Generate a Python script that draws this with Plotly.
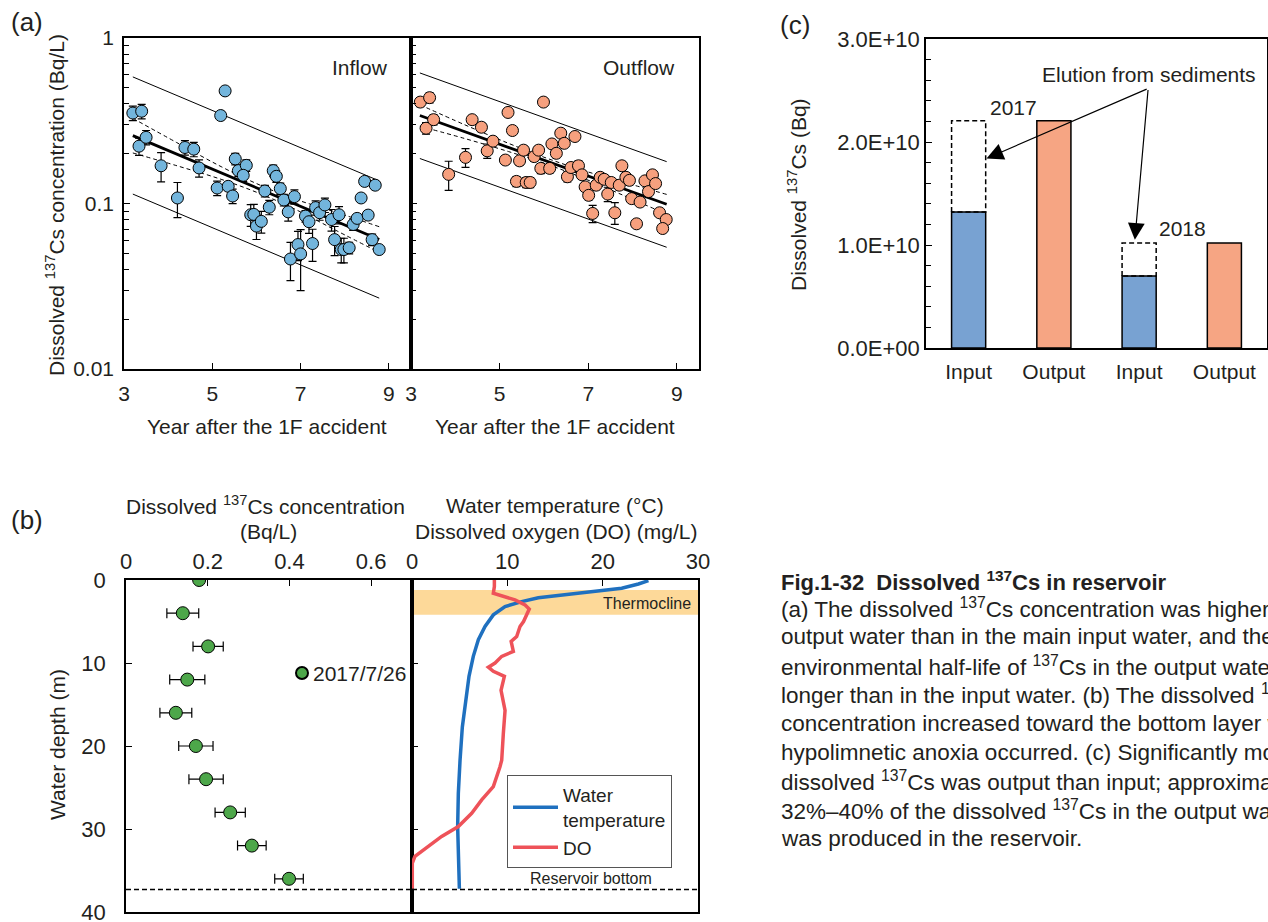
import plotly.graph_objects as go

W, H = 1268, 922
FONT = "Liberation Sans, Arial, sans-serif"
TXT = "#231F20"

# ---------------- (a) Inflow ----------------
in_year = [3.20, 3.40, 3.34, 3.50, 3.84, 4.21, 4.38, 4.58, 4.70, 5.29, 5.19, 5.11, 5.36, 5.46,
           5.52, 5.59, 5.77, 5.70, 5.87, 5.94, 6.00, 6.11, 6.19, 6.29, 6.38, 6.45, 6.54, 6.62,
           6.72, 6.86, 6.77, 6.94, 7.00, 7.11, 7.19, 7.27, 7.34, 7.43, 7.55, 7.70, 7.77, 7.87,
           7.92, 7.98, 8.10, 8.19, 8.28, 8.37, 8.45, 8.53, 8.69, 8.62, 8.78]
in_conc = [0.352, 0.361, 0.222, 0.251, 0.169, 0.108, 0.218, 0.213, 0.164, 0.479, 0.340, 0.124,
           0.127, 0.111, 0.186, 0.158, 0.170, 0.148, 0.0855, 0.0859, 0.073, 0.078, 0.119, 0.095,
           0.158, 0.146, 0.123, 0.105, 0.089, 0.110, 0.0462, 0.0565, 0.0496, 0.0839, 0.0776,
           0.0573, 0.0944, 0.088, 0.098, 0.080, 0.0605, 0.0855, 0.0527, 0.0527, 0.054, 0.0747,
           0.0813, 0.108, 0.136, 0.0851, 0.129, 0.0605, 0.0527]
in_err_rel = [0.10, 0.10, 0.12, 0.10, 0.20, 0.24, 0.10, 0.10, 0.12, 0.0, 0.0, 0.10, 0.05, 0.10,
              0.08, 0.08, 0.08, 0.08, 0.15, 0.15, 0.17, 0.15, 0.08, 0.10, 0.08, 0.08, 0.08, 0.08,
              0.12, 0.10, 0.26, 0.20, 0.40, 0.08, 0.15, 0.22, 0.10, 0.10, 0.10, 0.15, 0.20, 0.12,
              0.17, 0.17, 0.08, 0.08, 0.05, 0.05, 0.0, 0.05, 0.0, 0.08, 0.0]
in_fit_x = [3.20, 8.78]
in_fit_y = [0.257, 0.0606]
in_pred_hi = [0.582, 0.137]
in_pred_lo = [0.114, 0.0268]
in_band_x = [3.20, 4.20, 5.20, 6.00, 6.80, 7.80, 8.78]
in_band_hi = [0.327, 0.233, 0.167, 0.132, 0.108, 0.0886, 0.0724]
in_band_lo = [0.202, 0.169, 0.140, 0.117, 0.0944, 0.0688, 0.0506]

# ---------------- (a) Outflow ----------------
out_year = [3.21, 3.42, 3.34, 3.51, 3.85, 4.23, 4.38, 4.59, 4.72, 4.85, 5.13, 5.19, 5.29, 5.38,
            5.45, 5.54, 5.60, 5.69, 5.78, 5.88, 5.93, 5.99, 6.13, 6.18, 6.28, 6.38, 6.46, 6.53,
            6.61, 6.70, 6.78, 6.86, 6.93, 7.01, 7.10, 7.18, 7.27, 7.36, 7.44, 7.52, 7.60, 7.70,
            7.76, 7.85, 7.93, 7.98, 8.09, 8.17, 8.28, 8.36, 8.45, 8.52, 8.61, 8.76, 8.68]
out_conc = [0.410, 0.436, 0.285, 0.321, 0.150, 0.190, 0.321, 0.289, 0.208, 0.238, 0.183, 0.355,
            0.276, 0.136, 0.181, 0.210, 0.134, 0.134, 0.192, 0.210, 0.163, 0.410, 0.163, 0.229,
            0.201, 0.266, 0.231, 0.145, 0.165, 0.254, 0.169, 0.149, 0.126, 0.112, 0.0871, 0.129,
            0.144, 0.140, 0.114, 0.134, 0.0879, 0.129, 0.169, 0.144, 0.138, 0.107, 0.0754, 0.102,
            0.137, 0.118, 0.149, 0.132, 0.0879, 0.080, 0.0706]
out_err_rel = [0.06, 0.07, 0.08, 0.07, 0.20, 0.13, 0.06, 0.06, 0.10, 0.06, 0.06, 0.0, 0.0, 0.07,
               0.06, 0.06, 0.07, 0.07, 0.06, 0.06, 0.07, 0.0, 0.06, 0.0, 0.06, 0.0, 0.0, 0.07,
               0.06, 0.0, 0.07, 0.06, 0.06, 0.06, 0.12, 0.06, 0.06, 0.06, 0.10, 0.06, 0.15, 0.06,
               0.06, 0.06, 0.06, 0.0, 0.0, 0.0, 0.0, 0.0, 0.0, 0.0, 0.0, 0.0, 0.0]
out_fit_x = [3.20, 8.77]
out_fit_y = [0.340, 0.0989]
out_pred_hi = [0.615, 0.179]
out_pred_lo = [0.187, 0.0544]
out_band_x = [3.20, 4.20, 5.20, 6.00, 6.80, 7.80, 8.77]
out_band_hi = [0.395, 0.300, 0.231, 0.1905, 0.161, 0.1344, 0.1135]
out_band_lo = [0.293, 0.2475, 0.206, 0.1754, 0.1455, 0.1118, 0.0861]

# ---------------- (b) depth profile ----------------
b_depth = [0, 4, 8, 12, 16, 20, 24, 28, 32, 36]
b_conc = [0.179, 0.139, 0.201, 0.150, 0.122, 0.171, 0.196, 0.255, 0.308, 0.399]
b_err = [0.0, 0.039, 0.037, 0.043, 0.039, 0.042, 0.042, 0.037, 0.035, 0.035]
b_date = "2017/7/26"

temp_val = [24.8, 23.75, 22.0, 18.85, 15.7, 13.25, 11.5, 9.76, 8.53, 7.66, 6.96, 6.43, 5.98,
            5.63, 5.28, 5.04, 4.86, 4.79, 4.86, 4.97]
temp_depth = [0.08, 0.48, 1.0, 1.4, 1.8, 2.13, 2.6, 3.2, 4.2, 5.6, 7.2, 9.2, 11.6, 14.5, 17.7,
              21.7, 25.7, 29.7, 33.7, 37.2]
do_val = [8.64, 8.64, 8.53, 9.41, 10.8, 11.86, 12.3, 11.7, 11.33, 10.98, 10.4, 10.63, 9.41,
          8.71, 8.01, 8.53, 9.69, 9.34, 9.48, 9.76, 9.58, 9.41, 9.23, 8.53, 7.31, 6.26, 4.86,
          3.11, 1.71, 0.31, 0.03, 0.03]
do_depth = [0.0, 0.8, 1.6, 1.93, 2.4, 3.0, 3.5, 5.0, 5.6, 6.8, 7.4, 8.6, 9.2, 10.0, 10.5, 11.0,
            11.6, 13.3, 14.1, 15.7, 18.5, 21.7, 22.5, 24.9, 26.5, 28.1, 29.7, 30.9, 32.1, 33.3,
            34.1, 37.2]
thermo_top, thermo_bot = 1.2, 4.2
bottom_depth = 37.3

# ---------------- (c) budget ----------------
c_pos = [0, 1, 2, 3]
c_labels = ["Input", "Output", "Input", "Output"]
c_years = ["2017", "2018"]
c_input = [1.32e10, 0.70e10]
c_output = [2.207e10, 1.02e10]
c_ticks = [0, 1e10, 2e10, 3e10]
c_ticktext = ["0.0E+00", "1.0E+10", "2.0E+10", "3.0E+10"]
elution_tail = (2.106, 2.52e10)
elution_heads = [(0.21, 1.84e10), (1.95, 1.05e10)]

caption_title = "<b>Fig.1-32  Dissolved <sup>137</sup>Cs in reservoir</b>"
caption_lines = [
    "(a) The dissolved <sup>137</sup>Cs concentration was higher in the",
    "output water than in the main input water, and the effective",
    "environmental half-life of <sup>137</sup>Cs in the output water was",
    "longer than in the input water. (b) The dissolved <sup>137</sup>Cs",
    "concentration increased toward the bottom layer when",
    "hypolimnetic anoxia occurred. (c) Significantly more",
    "dissolved <sup>137</sup>Cs was output than input; approximately",
    "32%–40% of the dissolved <sup>137</sup>Cs in the output water",
    "was produced in the reservoir.",
]


def px(x):
    return x / W


def py(y):
    return 1 - y / H


fig = go.Figure()


def add_a(xa, ya, yr, conc, err, fx, fy, phi, plo, bx, bhi, blo, color):
    for yy in (phi, plo):
        fig.add_trace(go.Scatter(x=fx, y=yy, mode="lines", line=dict(color="black", width=1),
                                 xaxis=xa, yaxis=ya, showlegend=False, hoverinfo="skip"))
    for yy in (bhi, blo):
        fig.add_trace(go.Scatter(x=bx, y=yy, mode="lines",
                                 line=dict(color="black", width=1, dash="4px,3px", shape="spline"),
                                 xaxis=xa, yaxis=ya, showlegend=False, hoverinfo="skip"))
    fig.add_trace(go.Scatter(x=fx, y=fy, mode="lines", line=dict(color="black", width=2.8),
                             xaxis=xa, yaxis=ya, showlegend=False, hoverinfo="skip"))
    fig.add_trace(go.Scatter(
        x=yr, y=conc, mode="markers", xaxis=xa, yaxis=ya, showlegend=False,
        marker=dict(color=color, size=12, line=dict(color="black", width=1)),
        error_y=dict(type="data", array=[c * e for c, e in zip(conc, err)], color="black",
                     thickness=1.2, width=4)))


add_a("x", "y", in_year, in_conc, in_err_rel, in_fit_x, in_fit_y, in_pred_hi, in_pred_lo,
      in_band_x, in_band_hi, in_band_lo, "#73B5DC")
add_a("x2", "y2", out_year, out_conc, out_err_rel, out_fit_x, out_fit_y, out_pred_hi, out_pred_lo,
      out_band_x, out_band_hi, out_band_lo, "#F6A07E")

# ---- (b) traces
fig.add_trace(go.Scatter(
    x=b_conc, y=b_depth, mode="markers", xaxis="x3", yaxis="y3", name=" ", legend="legend2",
    marker=dict(color="#4DA74A", size=13, line=dict(color="black", width=1)),
    error_x=dict(type="data", array=b_err, color="black", thickness=1.2, width=5)))
fig.add_trace(go.Scatter(x=temp_val, y=temp_depth, mode="lines", xaxis="x4", yaxis="y4",
                         name="Water<br>temperature", line=dict(color="#1F70BF", width=3.5)))
fig.add_trace(go.Scatter(x=do_val, y=do_depth, mode="lines", xaxis="x4", yaxis="y4",
                         name="DO", line=dict(color="#EE5259", width=3.5)))

# ---- (c) traces
in_x = [c_pos[0], c_pos[2]]
out_x = [c_pos[1], c_pos[3]]
fig.add_trace(go.Bar(x=in_x, y=c_input, width=0.4, xaxis="x5", yaxis="y5", showlegend=False,
                     marker=dict(color="#78A2D2", line=dict(color="black", width=1.5))))
fig.add_trace(go.Bar(x=out_x, y=c_output, width=0.4, xaxis="x5", yaxis="y5", showlegend=False,
                     marker=dict(color="#F6A583", line=dict(color="black", width=1.5))))
for xi, lo, hi in zip(in_x, c_input, c_output):
    fig.add_trace(go.Scatter(
        x=[xi - 0.2, xi - 0.2, xi + 0.2, xi + 0.2, xi - 0.2],
        y=[lo, hi, hi, lo, lo], mode="lines", xaxis="x5", yaxis="y5", showlegend=False,
        line=dict(color="black", width=1.5, dash="5px,3px"), hoverinfo="skip"))

# ---- axes
axl = dict(showline=True, linecolor="black", linewidth=1.6, mirror=True, showgrid=False,
           zeroline=False, ticks="inside", tickcolor="black", ticklen=6, tickwidth=1,
           automargin=False, ticklabeloverflow="allow",
           tickfont=dict(size=21, color=TXT, family=FONT))
minor_log = [k * 10 ** e for e in (-2, -1) for k in range(2, 10)]
ydom_a = [py(369), py(38)]
fig.update_layout(
    xaxis=dict(axl, domain=[px(124), px(411)], range=[3, 9.5], tickvals=[3, 5, 7, 9], anchor="y",
               ticklabelstandoff=5),
    yaxis=dict(axl, domain=ydom_a, type="log", range=[-2, 0], tickvals=[0.01, 0.1, 1],
               ticktext=["0.01", "0.1", "1"], anchor="x", ticklabelstandoff=4,
               minor=dict(tickvals=minor_log, ticks="inside", ticklen=5, tickcolor="black")),
    xaxis2=dict(axl, domain=[px(411), px(699)], range=[3, 9.5], tickvals=[3, 5, 7, 9], anchor="y2",
                ticklabelstandoff=5),
    yaxis2=dict(axl, domain=ydom_a, type="log", range=[-2, 0], tickvals=[0.01, 0.1, 1],
                showticklabels=False, anchor="x2",
                minor=dict(tickvals=minor_log, ticks="inside", ticklen=5, tickcolor="black")),
    xaxis3=dict(axl, domain=[px(126), px(412)], range=[0, 0.7], tickvals=[0, 0.2, 0.4, 0.6],
                side="top", anchor="y3", tickfont=dict(size=22, color=TXT, family=FONT)),
    yaxis3=dict(axl, domain=[py(912), py(580)], range=[40, 0], tickvals=[0, 10, 20, 30, 40],
                anchor="x3", ticklabelstandoff=14, tickfont=dict(size=22, color=TXT, family=FONT)),
    xaxis4=dict(axl, domain=[px(412), px(698)], range=[0, 30], tickvals=[0, 10, 20, 30],
                side="top", anchor="y4", tickfont=dict(size=22, color=TXT, family=FONT)),
    yaxis4=dict(axl, domain=[py(912), py(580)], range=[40, 0], tickvals=[0, 10, 20, 30, 40],
                showticklabels=False, anchor="x4"),
    xaxis5=dict(axl, domain=[px(926), px(1267)], range=[-0.5, 3.5], tickvals=c_pos,
                ticktext=c_labels, ticks="", anchor="y5", ticklabelstandoff=4),
    yaxis5=dict(axl, domain=[py(348), py(39)], range=[0, 3e10], tickvals=c_ticks,
                ticktext=c_ticktext, anchor="x5", tickfont=dict(size=22, color=TXT, family=FONT),
                minor=dict(dtick=2e9, ticks="inside", ticklen=5, tickcolor="black")),
)

# ---- shapes
fig.add_shape(type="rect", xref="x4 domain", x0=0, x1=1, yref="y4", y0=thermo_top, y1=thermo_bot,
              fillcolor="#FDD999", line=dict(width=0), layer="below")
for xr, yr_ in (("x3 domain", "y3"), ("x4 domain", "y4")):
    fig.add_shape(type="line", xref=xr, x0=0, x1=1, yref=yr_, y0=bottom_depth, y1=bottom_depth,
                  line=dict(color="black", width=1.5, dash="5px,3px"))

# ---- annotations
ann = []


def T(text, x, y, size=21, xanchor="center", yanchor="middle", angle=0):
    ann.append(dict(text=text, x=px(x), y=py(y), xref="paper", yref="paper", showarrow=False,
                    xanchor=xanchor, yanchor=yanchor, textangle=angle,
                    font=dict(size=size, color=TXT, family=FONT)))


T("(a)", 27, 22, size=26)
T("(b)", 27, 520, size=26)
T("(c)", 795, 25, size=26)
T("Inflow", 390, 67, xanchor="right")
T("Outflow", 677, 67, xanchor="right")
T("Dissolved <sup>137</sup>Cs concentration (Bq/L)", 55, 205, angle=-90)
T("Year after the 1F accident", 267, 426)
T("Year after the 1F accident", 555, 426)
T("Dissolved <sup>137</sup>Cs concentration", 265, 505)
T("(Bq/L)", 268, 531)
T("Water temperature (°C)", 555, 505)
T("Dissolved oxygen (DO) (mg/L)", 556, 531)
T("Water depth (m)", 57, 745, angle=-90)
T("Thermocline", 693, 603, size=16, xanchor="right")
T("Reservoir bottom", 591, 878, size=16)
T(b_date, 311, 673, xanchor="left")
T("Dissolved <sup>137</sup>Cs (Bq)", 797, 195, angle=-90)
T("Elution from sediments", 1149, 74)
T(c_years[0], 1013, 107)
T(c_years[1], 1182, 228)
T(caption_title, 779, 581, size=22, xanchor="left")
for i, line in enumerate(caption_lines):
    T(line, 779, 608 + i * 28.8, size=22.5, xanchor="left")

for hx, hy in elution_heads:
    ann.append(dict(x=hx, y=hy, xref="x5", yref="y5", ax=elution_tail[0], ay=elution_tail[1],
                    axref="x5", ayref="y5", showarrow=True, arrowhead=2, arrowsize=2.8,
                    arrowwidth=1.2, arrowcolor="black", text=""))

fig.update_layout(
    annotations=ann,
    width=W, height=H, margin=dict(l=0, r=0, t=0, b=0, autoexpand=False),
    paper_bgcolor="white", plot_bgcolor="white",
    font=dict(family=FONT, color=TXT, size=21),
    barmode="overlay",
    legend=dict(x=px(507), y=py(775), xanchor="left", yanchor="top", bgcolor="white",
                bordercolor="#555555", borderwidth=1, font=dict(size=19, color=TXT, family=FONT),
                tracegroupgap=0, itemwidth=45),
    legend2=dict(x=px(282), y=py(673), xanchor="left", yanchor="middle", bgcolor="rgba(0,0,0,0)",
                 borderwidth=0, itemsizing="constant", font=dict(size=20, color=TXT, family=FONT)),
    showlegend=True,
)

fig.write_html("out.html", config={"displayModeBar": False},
               post_script="document.body.style.margin='0';document.body.style.overflow='hidden';")
